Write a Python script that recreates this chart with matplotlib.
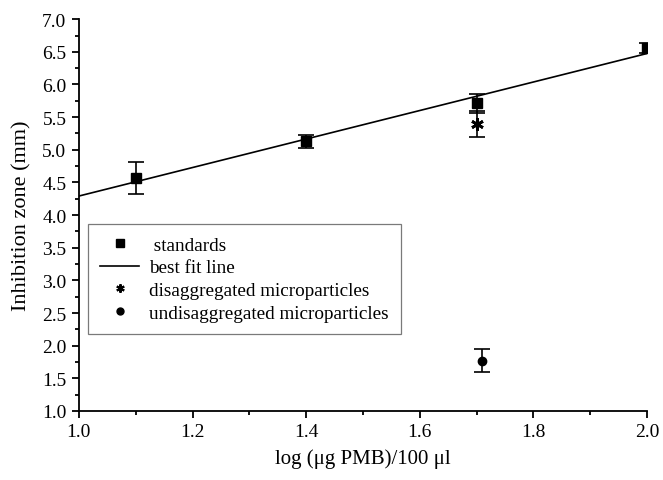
import matplotlib
matplotlib.use("Agg")
import matplotlib.pyplot as plt
from matplotlib.lines import Line2D
from matplotlib.ticker import MultipleLocator, FormatStrFormatter
import numpy as np

plt.rcParams['font.family'] = ['Liberation Serif', 'DejaVu Serif']

# standards
std_x = [1.1, 1.4, 1.7, 2.0]
std_y = [4.57, 5.13, 5.71, 6.56]
std_err = [0.24, 0.10, 0.14, 0.07]

# disaggregated microparticles
dis_x = [1.7]
dis_y = [5.40]
dis_err = [0.20]

# undisaggregated microparticles
und_x = [1.71]
und_y = [1.77]
und_err = [0.18]

fig = plt.figure(figsize=(6.63, 4.81), dpi=100)
ax = fig.add_axes([0.119, 0.1435, 0.857, 0.8145])

# best fit line through the standards
slope, icpt = np.polyfit(std_x, std_y, 1)
fit_x = np.array([1.0, 2.0])
ax.plot(fit_x, slope * fit_x + icpt, color='black', lw=1.2, zorder=2)

ax.errorbar(std_x, std_y, yerr=std_err, fmt='s', color='black', ms=7,
            capsize=6, elinewidth=1.2, capthick=1.2, zorder=3)
ax.errorbar(dis_x, dis_y, yerr=dis_err, fmt='none', ecolor='black',
            capsize=6, elinewidth=1.2, capthick=1.2, zorder=3)
ax.plot(dis_x, dis_y, marker=(6, 2, 0), ms=9, mew=2.0, color='black',
        ls='none', zorder=4)
ax.errorbar(und_x, und_y, yerr=und_err, fmt='o', color='black', ms=6,
            capsize=6, elinewidth=1.2, capthick=1.2, zorder=3)

ax.set_xlim(1.0, 2.0)
ax.set_ylim(1.0, 7.0)
ax.xaxis.set_major_locator(MultipleLocator(0.2))
ax.xaxis.set_minor_locator(MultipleLocator(0.1))
ax.yaxis.set_major_locator(MultipleLocator(0.5))
ax.yaxis.set_minor_locator(MultipleLocator(0.25))
ax.xaxis.set_major_formatter(FormatStrFormatter('%.1f'))
ax.yaxis.set_major_formatter(FormatStrFormatter('%.1f'))

for s in ['top', 'right']:
    ax.spines[s].set_visible(False)
for s in ['left', 'bottom']:
    ax.spines[s].set_linewidth(1.3)
ax.tick_params(which='major', direction='out', length=5, width=1.3,
               labelsize=14, pad=4)
ax.tick_params(which='minor', direction='out', length=3, width=1.3)

ax.set_xlabel('log (\u03bcg PMB)/100 \u03bcl', fontsize=15)
ax.set_ylabel('Inhibition zone (mm)', fontsize=16)
ax.xaxis.set_label_coords(0.5, -0.095)
ax.yaxis.set_label_coords(-0.083, 0.5)

handles = [
    Line2D([], [], marker='s', color='black', ls='none', ms=6),
    Line2D([], [], color='black', lw=1.2),
    Line2D([], [], marker=(6, 2, 0), color='black', ls='none', ms=6, mew=1.5),
    Line2D([], [], marker='o', color='black', ls='none', ms=5),
]
labels = [' standards', 'best fit line', 'disaggregated microparticles',
          'undisaggregated microparticles']
leg = ax.legend(handles, labels, loc='upper left', bbox_to_anchor=(0.016, 0.478),
                fontsize=13.8, frameon=True, fancybox=False, handlelength=2.0,
                handletextpad=0.55, labelspacing=0.28, borderpad=0.65,
                borderaxespad=0)
leg.get_frame().set_edgecolor('0.35')
leg.get_frame().set_linewidth(0.9)

fig.savefig('out.png', dpi=100)
